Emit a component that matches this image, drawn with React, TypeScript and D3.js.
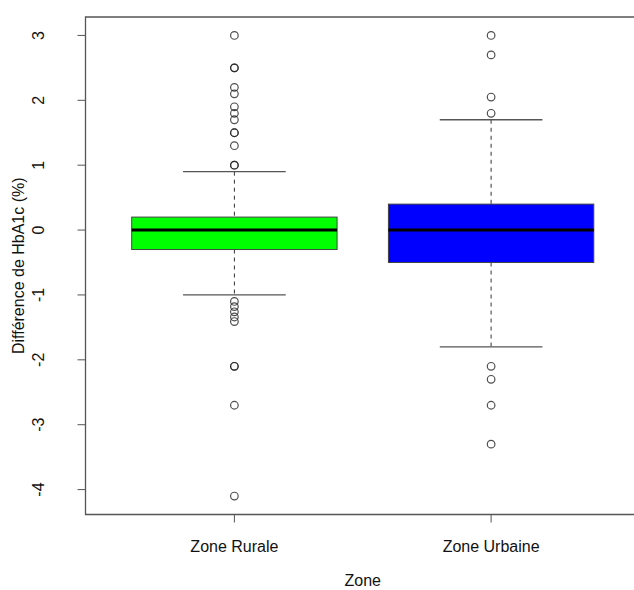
import React from "react";
import * as d3 from "d3";

const categories = ["Zone Rurale", "Zone Urbaine"];
const fills = ["#00ff00", "#0000ff"];
const q1 = [-0.3, -0.5];
const medians = [0, 0];
const q3 = [0.2, 0.4];
const whiskerLow = [-1.0, -1.8];
const whiskerHigh = [0.9, 1.7];
const outliersRurale = [3.0, 2.5, 2.5, 2.2, 2.1, 1.9, 1.8, 1.7, 1.5, 1.5, 1.3, 1.0, 1.0, -1.1, -1.18, -1.26, -1.34, -1.41, -2.1, -2.1, -2.7, -4.1];
const outliersUrbaine = [3.0, 2.7, 2.05, 1.8, -2.1, -2.3, -2.7, -3.3];
const yTicks = [-4, -3, -2, -1, 0, 1, 2, 3];
const yTitle = "Différence de HbA1c (%)";
const xTitle = "Zone";

const W = 634;
const H = 590;
const left = 85.5;
const right = 640;
const top = 17;
const bottom = 514.5;
const font = "'Liberation Sans', Arial, Helvetica, sans-serif";
const fs = 16;

export default function App() {
  const outliers = [outliersRurale, outliersUrbaine];
  const all = [...outliersRurale, ...outliersUrbaine, ...whiskerLow, ...whiskerHigh];
  const [mn, mx] = d3.extent(all) as [number, number];
  const pad = (mx - mn) * 0.04;
  const y = d3.scaleLinear().domain([mn - pad, mx + pad]).range([bottom, top]);
  const x = d3.scaleLinear().domain([0.42, 2.58]).range([left, right]);
  const boxHalf = x(1.4) - x(1);
  const capHalf = boxHalf / 2;
  const lineCol = "#333";

  return (
    <svg width={W} height={H} style={{ position: "absolute", left: 0, top: 0, background: "#fff" }}>
      {/* plot frame (right side falls outside the canvas) */}
      <path d={`M${right},${top}H${left}V${bottom}H${right}`} fill="none" stroke="#555" strokeWidth={1.3} />
      {categories.map((c, i) => {
        const cx = x(i + 1);
        return (
          <g key={c}>
            <line x1={cx} x2={cx} y1={y(whiskerHigh[i])} y2={y(q3[i])} stroke={lineCol} strokeDasharray="4,4" strokeWidth={1} />
            <line x1={cx} x2={cx} y1={y(q1[i])} y2={y(whiskerLow[i])} stroke={lineCol} strokeDasharray="4,4" strokeWidth={1} />
            <line x1={cx - capHalf} x2={cx + capHalf} y1={y(whiskerHigh[i])} y2={y(whiskerHigh[i])} stroke="#555" strokeWidth={1.3} />
            <line x1={cx - capHalf} x2={cx + capHalf} y1={y(whiskerLow[i])} y2={y(whiskerLow[i])} stroke="#555" strokeWidth={1.3} />
            <rect x={cx - boxHalf} y={y(q3[i])} width={2 * boxHalf} height={y(q1[i]) - y(q3[i])} fill={fills[i]} stroke="#444" strokeWidth={1} />
            <line x1={cx - boxHalf} x2={cx + boxHalf} y1={y(medians[i])} y2={y(medians[i])} stroke="#000" strokeWidth={3} />
            {outliers[i].map((v, j) => (
              <circle key={j} cx={cx} cy={y(v)} r={3.8} fill="none" stroke="#222" strokeWidth={1.2} opacity={0.8} />
            ))}
            <line x1={cx} x2={cx} y1={bottom} y2={bottom + 8} stroke="#555" strokeWidth={1} />
            <text x={cx} y={552} textAnchor="middle" fontFamily={font} fontSize={fs} fill="#111">{c}</text>
          </g>
        );
      })}
      {yTicks.map((t) => (
        <g key={t}>
          <line x1={left - 8} x2={left} y1={y(t)} y2={y(t)} stroke="#555" strokeWidth={1} />
          <text transform={`translate(44,${y(t)}) rotate(-90)`} textAnchor="middle" fontFamily={font} fontSize={fs} fill="#111">{t}</text>
        </g>
      ))}
      <text transform={`translate(24,${(top + bottom) / 2}) rotate(-90)`} textAnchor="middle" fontFamily={font} fontSize={fs} fill="#111">{yTitle}</text>
      <text x={(x(1) + x(2)) / 2} y={586} textAnchor="middle" fontFamily={font} fontSize={fs} fill="#111">{xTitle}</text>
    </svg>
  );
}
